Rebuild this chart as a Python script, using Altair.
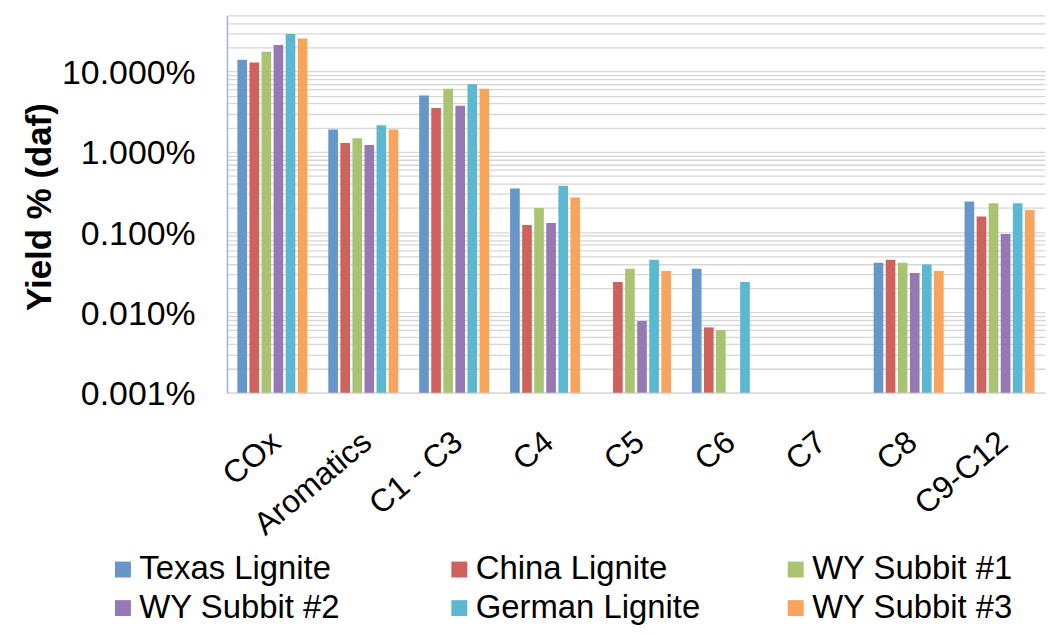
import altair as alt
import pandas as pd

categories = ["COx", "Aromatics", "C1 - C3", "C4", "C5", "C6", "C7", "C8", "C9-C12"]
series = ["Texas Lignite", "China Lignite", "WY Subbit #1",
          "WY Subbit #2", "German Lignite", "WY Subbit #3"]
colors = ["#6796C9", "#D0625E", "#A8C472", "#9679B3", "#5CB8D1", "#F8A45C"]

# yields in percent (daf); None = no bar
texas = [14.0, 1.90, 5.05, 0.349, None, 0.035, None, 0.0416, 0.241]
china = [13.0, 1.29, 3.52, 0.123, 0.0239, 0.0065, None, 0.0453, 0.156]
wy1 = [17.7, 1.48, 6.10, 0.200, 0.035, 0.0060, None, 0.0416, 0.228]
wy2 = [21.4, 1.22, 3.76, 0.130, 0.0078, None, None, 0.0309, 0.095]
german = [29.3, 2.14, 6.97, 0.377, 0.0453, 0.0239, None, 0.0396, 0.228]
wy3 = [25.8, 1.90, 6.10, 0.270, 0.0327, None, None, 0.0327, 0.188]

decades = [0.001, 0.01, 0.1, 1, 10]
grid_values = [k * d for d in decades for k in range(1, 10) if k * d <= 50] + [50]
y_min, y_max = 0.001, 50

rows = []
for s, vals in zip(series, [texas, china, wy1, wy2, german, wy3]):
    for c, v in zip(categories, vals):
        if v is not None:
            rows.append({"category": c, "series": s, "value": v})
df = pd.DataFrame(rows)

FONT = "Liberation Sans"

chart = alt.Chart(df).mark_bar().encode(
    x=alt.X("category:N", sort=categories,
            scale=alt.Scale(domain=categories, paddingInner=0.23, paddingOuter=0.115),
            axis=alt.Axis(title=None, labelAngle=320, labelAlign="right",
                          labelBaseline="middle", labelFontSize=32, labelFont=FONT,
                          labelColor="black", labelPadding=45, labelOffset=4,
                          ticks=False, domainColor="#D9D9D9", domainWidth=1.5,
                          grid=False)),
    xOffset=alt.XOffset("series:N", scale=alt.Scale(domain=series, paddingInner=0.2)),
    y=alt.Y("value:Q",
            scale=alt.Scale(type="log", domain=[y_min, y_max]),
            axis=alt.Axis(title="Yield % (daf)", values=grid_values,
                          labelExpr="abs(log(datum.value)/LN10 - round(log(datum.value)/LN10)) < 0.001 ? format(datum.value, '.3f') + '%' : ''",
                          labelOverlap=False, labelFontSize=34, labelFont=FONT,
                          labelColor="black", labelPadding=32, labelOffset=2,
                          ticks=False, domainColor="#9DB5D6", domainWidth=1.5,
                          gridColor="#D6D6D6", gridWidth=1.3,
                          titleFont=FONT, titleFontSize=35, titleFontWeight="bold",
                          titleColor="black", titleAngle=270, titleBaseline="middle",
                          titleX=-188, titleY=192)),
    y2=alt.Y2Datum(y_min),
    color=alt.Color("series:N", scale=alt.Scale(domain=series, range=colors),
                    legend=alt.Legend(title=None, orient="none", legendX=-121, legendY=540,
                                      columns=3, direction="horizontal",
                                      symbolType="square", symbolSize=256,
                                      symbolStrokeWidth=0, labelFontSize=33, labelFont=FONT,
                                      labelColor="black", labelOffset=0, columnPadding=79,
                                      rowPadding=5, gridAlign="all", padding=0,
                                      labelLimit=400))
).properties(
    width=822, height=379,
    autosize=alt.AutoSizeParams(type="none"),
    padding={"left": 220, "top": 6, "right": 2, "bottom": 235}
).configure_view(stroke=None)

chart.save("out.html", embed_options={"renderer": "svg", "actions": False})
